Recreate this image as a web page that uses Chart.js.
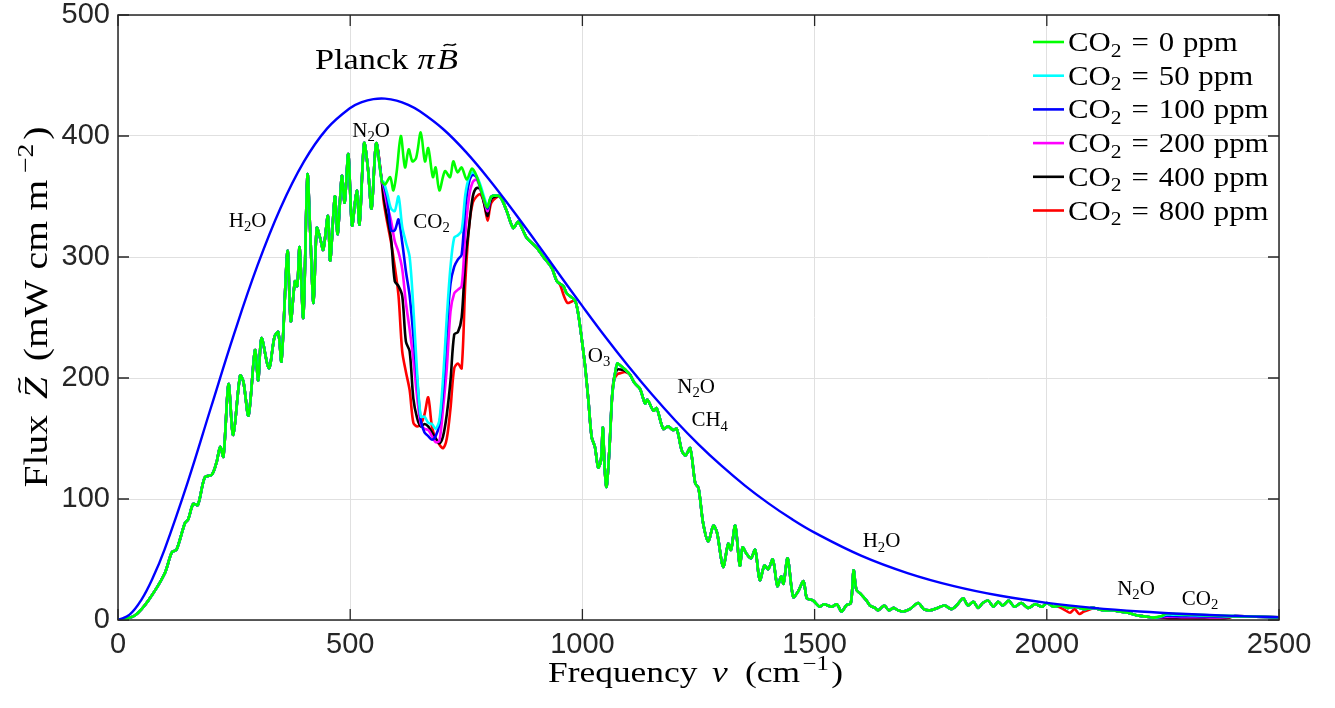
<!DOCTYPE html>
<html>
<head>
<meta charset="utf-8">
<script src="https://cdn.jsdelivr.net/npm/chart.js@4.4.1/dist/chart.umd.min.js"></script>
<style>
  html, body { margin: 0; padding: 0; background: #fff; }
</style>
</head>
<body>
<canvas id="flux-chart" width="1335" height="708"></canvas>
<script>
// Planck curve (blue)
var planckNu = [0, 25, 50, 75, 100, 150, 200, 250, 300, 350, 400, 450, 500, 525, 550, 575, 600, 625, 650, 700, 750, 800, 850, 900, 950, 1000, 1050, 1100, 1150, 1200, 1250, 1300, 1350, 1400, 1450, 1500, 1600, 1700, 1800, 1900, 2000, 2100, 2200, 2300, 2400, 2500];
var planckFlux = [0, 4.4, 16.5, 34.9, 58, 113.8, 175.4, 236.5, 292.6, 340.5, 378.6, 406.1, 423.2, 428.0, 430.5, 430.9, 429.3, 425.7, 420.5, 405.8, 386.5, 363.7, 338.7, 312.5, 285.8, 259.4, 233.7, 209.3, 186.3, 164.9, 145.2, 127.3, 111.1, 96.6, 83.6, 72.2, 53.2, 38.8, 28.0, 20.0, 14.2, 10.0, 7.0, 4.9, 3.4, 2.3];

// CO2 = 0 ppm spectrum (green)
var nu0 = [0, 15, 37, 65, 100, 116, 126, 144, 151, 162, 172, 187, 202, 212, 220, 227, 238, 248, 263, 270,
  281, 295, 302, 309, 325, 337, 345, 352, 365, 372, 381, 386, 391, 399, 408, 414, 421, 428, 435, 442,
  452, 457, 467, 473, 482, 488, 496, 504, 514, 520, 530, 538, 546, 556, 568, 575, 586, 593, 600, 609,
  618, 626, 634, 642, 652, 661, 668, 678, 684, 692, 704, 715, 722, 731, 740, 751, 762, 772, 787, 795,
  804, 822, 837, 851, 862, 880, 901, 916, 934, 945, 959, 966, 984, 991, 999, 1006, 1013, 1020, 1027, 1034,
  1040, 1044, 1048, 1052, 1058, 1064, 1070, 1075, 1080, 1092, 1102, 1112, 1124, 1135, 1140, 1153, 1160, 1174, 1185, 1195,
  1203, 1214, 1222, 1232, 1243, 1250, 1260, 1271, 1282, 1290, 1303, 1314, 1320, 1329, 1339, 1345, 1353, 1363, 1372, 1382,
  1392, 1400, 1410, 1420, 1428, 1433, 1442, 1454, 1465, 1476, 1483, 1490, 1497, 1511, 1520, 1537, 1548, 1558, 1568, 1578,
  1584, 1590, 1598, 1612, 1619, 1630, 1637, 1650, 1660, 1670, 1680, 1691, 1705, 1723, 1735, 1749, 1765, 1780, 1795, 1808,
  1820, 1830, 1842, 1852, 1862, 1874, 1885, 1895, 1905, 1918, 1930, 1945, 1960, 1975, 1990, 2000, 2015, 2030, 2045, 2060,
  2080, 2100, 2122, 2140, 2158, 2175, 2193, 2210, 2229, 2245, 2258, 2280, 2320, 2360, 2400, 2450, 2500];
var flux0 = [0, 1, 4, 16, 38, 56, 58, 80, 83, 96, 95, 118, 120, 130, 143, 135, 195, 153, 202, 197,
  169, 223, 198, 233, 208, 234, 238, 214, 305, 247, 280, 276, 308, 250, 368, 320, 262, 324, 316, 306,
  334, 297, 350, 319, 367, 345, 385, 326, 355, 327, 394, 374, 340, 394, 363, 360, 366, 355, 370, 400,
  374, 389, 379, 382, 403, 379, 390, 366, 374, 355, 371, 366, 379, 370, 374, 364, 373, 367, 349, 341,
  350, 350, 338, 324, 329, 316, 308, 300, 291, 280, 276, 270, 264, 253, 231, 209, 181, 151, 143, 126,
  132, 159, 125, 110, 140, 185, 203, 212, 211, 207, 203, 196, 191, 179, 182, 173, 175, 158, 160, 157,
  158, 140, 136, 142, 113, 109, 80, 65, 78, 72, 44, 63, 58, 78, 45, 60, 55, 51, 58, 33,
  45, 42, 50, 28, 36, 30, 51, 19, 24, 32, 18, 17, 16, 11, 13, 11, 13, 7, 12, 14,
  41, 25, 22, 16, 12, 10, 8, 12, 8, 10, 8, 7, 9, 14, 9, 8, 10, 12, 9, 13,
  18, 12, 15, 10, 14, 16, 11, 15, 12, 16, 11, 14, 10, 13, 11, 14, 11, 12, 10, 11,
  9, 10, 8, 8, 7, 6, 4, 3, 2, 3, 5.3, 5.0, 4.3, 3.7, 3.2, 2.7, 2.2];

// 667 cm-1 CO2 band, one row per concentration
var bandNu = [572, 580, 588, 596, 604, 612, 620, 628, 636, 644, 652, 660, 668, 676, 684, 692, 700, 708, 716, 724, 732, 740, 748, 756, 764, 772, 780, 788, 796, 804];
var band50 = [362, 352, 340, 338, 350, 325, 312, 300, 258, 205, 168, 168, 163, 162, 158, 165, 200, 250, 292, 316, 318, 322, 352, 366, 370, 367, 360, 350, 342, 350];
var band100 = [360, 348, 322, 322, 331, 312, 288, 268, 235, 200, 165, 155, 152, 149, 152, 162, 190, 240, 278, 292, 298, 302, 342, 362, 368, 366, 358, 348, 340, 350];
var band200 = [358, 342, 330, 313, 304, 290, 262, 240, 215, 185, 162, 158, 157, 152, 147, 148, 175, 208, 255, 270, 273, 276, 320, 350, 362, 364, 357, 347, 338, 350];
var band400 = [350, 332, 315, 280, 276, 268, 230, 222, 183, 167, 160, 162, 160, 155, 150, 146, 152, 170, 198, 236, 238, 250, 298, 325, 350, 357, 356, 345, 334, 348];
var band800 = [346, 328, 312, 292, 268, 222, 205, 190, 163, 160, 162, 170, 184, 160, 150, 145, 142, 150, 175, 208, 212, 208, 280, 325, 345, 350, 352, 345, 330, 345];

// 2350 cm-1 CO2 band
var wingNu = [2245, 2258, 2270, 2290, 2310, 2330, 2350, 2370, 2385, 2395, 2405];
var wing50 = [2.8, 4.5, 4.4, 4.2, 4.0, 3.8, 3.6, 3.4, 3.2, 3.2, 3.2];
var wing100 = [2.6, 3.5, 3.3, 3.2, 3.1, 3.0, 2.9, 2.8, 2.8, 3.0, 3.2];
var wing200 = [2.4, 2.6, 2.5, 2.4, 2.3, 2.3, 2.2, 2.2, 2.3, 2.8, 3.2];
var wing400 = [2.2, 1.8, 1.7, 1.6, 1.6, 1.5, 1.5, 1.5, 1.7, 2.5, 3.2];
var wing800 = [2.0, 1.3, 1.1, 1.0, 1.0, 1.0, 1.0, 1.0, 1.2, 2.2, 3.2];

// small weak-band dips
var midNu = [945, 952, 960, 968, 976, 984];
var mid800 = [280, 277, 268, 262, 263, 264];
var o3Nu = [1068, 1075, 1082, 1092];
var o3At400 = [200, 207, 207, 206];
var o3At800 = [198, 203, 204, 205];
var farNu = [2025, 2040, 2050, 2060, 2070, 2080, 2095];
var far800 = [11, 8, 6, 9, 5, 7, 9];

var ppmLevels = [0, 50, 100, 200, 400, 800];
var lineColors = ['#00ff00', '#00ffff', '#0000ff', '#ff00ff', '#000000', '#ff0000'];
var xTicks = [0, 500, 1000, 1500, 2000, 2500];
var yTicks = [0, 100, 200, 300, 400, 500];

function toPoints(xs, ys) {
    return xs.map(function (x, i) { return { x: x, y: ys[i] }; });
}

// copy the green spectrum and swap in the ranges where a series differs
function withPatches(base, patches) {
    var pts = base.slice();
    patches.forEach(function (p) {
        var lo = p[0][0], hi = p[0][p[0].length - 1];
        pts = pts.filter(function (q) { return q.x < lo || q.x > hi; }).concat(toPoints(p[0], p[1]));
    });
    return pts.sort(function (a, b) { return a.x - b.x; });
}

var greenPts = toPoints(nu0, flux0);
var seriesData = [
    greenPts,
    withPatches(greenPts, [[bandNu, band50], [wingNu, wing50]]),
    withPatches(greenPts, [[bandNu, band100], [wingNu, wing100]]),
    withPatches(greenPts, [[bandNu, band200], [wingNu, wing200]]),
    withPatches(greenPts, [[bandNu, band400], [o3Nu, o3At400], [wingNu, wing400]]),
    withPatches(greenPts, [[bandNu, band800], [midNu, mid800], [o3Nu, o3At800], [farNu, far800], [wingNu, wing800]])
];

var datasets = ppmLevels.map(function (level, i) {
    return {
        label: 'CO\u2082 = ' + level + ' ppm',
        data: seriesData[i],
        borderColor: lineColors[i],
        borderWidth: 2.6,
        tension: 0.3,
        order: i
    };
});
datasets.push({
    label: 'Planck',
    data: toPoints(planckNu, planckFlux),
    borderColor: '#0000ff',
    borderWidth: 2.4,
    tension: 0.4,
    order: -1
});

var serif = '"Liberation Serif", "Times New Roman", serif';

// text with sub/superscripts, italics and tildes
function drawRich(ctx, parts, x, y, o) {
    var size = o.size;
    function font(p) {
        var s = (p.sub || p.sup) ? size * 0.7 : size;
        return (p.it ? 'italic ' : '') + s.toFixed(1) + 'px ' + serif;
    }
    var w = 0;
    parts.forEach(function (p) {
        ctx.font = font(p);
        p.w = ctx.measureText(p.t).width;
        w += p.w + (p.gap || 0);
    });
    var sx = o.fit ? o.fit / w : (o.sx || 1);
    ctx.save();
    ctx.translate(x, y);
    if (o.rotate) ctx.rotate(o.rotate);
    ctx.scale(sx, o.sy || 1);
    ctx.fillStyle = '#000';
    ctx.strokeStyle = '#000';
    ctx.textAlign = 'left';
    ctx.textBaseline = 'alphabetic';
    var cx = o.align === 'left' ? 0 : -w / 2;
    parts.forEach(function (p) {
        ctx.font = font(p);
        var dy = p.sub ? size * 0.2 : (p.sup ? -size * 0.42 : 0);
        ctx.fillText(p.t, cx, dy);
        if (p.tilde) {
            var tw = size * 0.36, a = size * 0.035;
            var tx = cx + p.w * 0.5 + size * 0.07, ty = -size * 0.82;
            ctx.lineWidth = size * 0.05;
            ctx.beginPath();
            ctx.moveTo(tx - tw / 2, ty + a);
            ctx.bezierCurveTo(tx - tw / 6, ty - 3 * a, tx + tw / 6, ty + 3 * a, tx + tw / 2, ty - a);
            ctx.stroke();
        }
        cx += p.w + (p.gap || 0);
    });
    ctx.restore();
}

function chemParts(name) {
    var parts = [];
    name.replace(/(\d+)|(\D+)/g, function (m, d, s) { parts.push(d ? { t: d, sub: true } : { t: s }); });
    return parts;
}

// gas labels, anchored in data units (centre, baseline)
var gasNotes = [
    { name: 'H2O', nu: 279, flux: 325 },
    { name: 'N2O', nu: 545, flux: 399 },
    { name: 'CO2', nu: 675, flux: 324 },
    { name: 'O3', nu: 1036, flux: 213 },
    { name: 'N2O', nu: 1245, flux: 188 },
    { name: 'CH4', nu: 1274, flux: 160 },
    { name: 'H2O', nu: 1644, flux: 60 },
    { name: 'N2O', nu: 2192, flux: 20.6 },
    { name: 'CO2', nu: 2330, flux: 12.4 }
];

var axesDecor = {
    id: 'axesDecor',
    beforeDatasetsDraw: function (chart) {
        var ctx = chart.ctx, a = chart.chartArea, xs = chart.scales.x, ys = chart.scales.y;
        ctx.save();
        ctx.strokeStyle = '#262626';
        ctx.lineWidth = 1.3;
        ctx.beginPath();
        xTicks.forEach(function (v) {
            var px = xs.getPixelForValue(v);
            ctx.moveTo(px, a.bottom); ctx.lineTo(px, a.bottom - 11);
            ctx.moveTo(px, a.top); ctx.lineTo(px, a.top + 11);
        });
        yTicks.forEach(function (v) {
            var py = ys.getPixelForValue(v);
            ctx.moveTo(a.left, py); ctx.lineTo(a.left + 11, py);
            ctx.moveTo(a.right, py); ctx.lineTo(a.right - 11, py);
        });
        ctx.stroke();
        ctx.restore();
    },
    afterDatasetsDraw: function (chart) {
        var ctx = chart.ctx, a = chart.chartArea, xs = chart.scales.x, ys = chart.scales.y;
        ctx.save();
        ctx.strokeStyle = '#262626';
        ctx.lineWidth = 1.5;
        ctx.strokeRect(a.left, a.top, a.right - a.left, a.bottom - a.top);

        // legend
        var lx = a.right - 246, ly = a.top + 27, rowH = 33.7;
        ppmLevels.forEach(function (level, i) {
            var y = ly + i * rowH;
            ctx.strokeStyle = lineColors[i];
            ctx.lineWidth = 2.6;
            ctx.beginPath();
            ctx.moveTo(lx, y);
            ctx.lineTo(lx + 31, y);
            ctx.stroke();
            drawRich(ctx, [{ t: 'CO' }, { t: '2', sub: true, gap: 9 }, { t: '=', gap: 9 }, { t: String(level), gap: 8 }, { t: 'ppm' }],
                lx + 35, y + 9, { size: 28, sx: 1.1, align: 'left' });
        });

        // gas labels
        gasNotes.forEach(function (g) {
            drawRich(ctx, chemParts(g.name), xs.getPixelForValue(g.nu), ys.getPixelForValue(g.flux), { size: 21 });
        });
        drawRich(ctx, [{ t: 'Planck', gap: 8 }, { t: '\u03c0', it: true, gap: 2 }, { t: 'B', it: true, tilde: true }],
            xs.getPixelForValue(578), ys.getPixelForValue(455), { size: 30, fit: 143 });

        // axis titles
        drawRich(ctx, [{ t: 'Frequency', gap: 12 }, { t: '\u03bd', it: true, gap: 14 }, { t: '(cm', gap: 2 }, { t: '\u22121', sup: true, gap: 2 }, { t: ')' }],
            (a.left + a.right) / 2 - 3, 682, { size: 29, fit: 295 });
        drawRich(ctx, [{ t: 'Flux', gap: 12 }, { t: 'Z', it: true, tilde: true, gap: 12 }, { t: '(mW', gap: 8 }, { t: 'cm', gap: 8 }, { t: 'm', gap: 5 }, { t: '\u22122', sup: true, gap: 3 }, { t: ')' }],
            47, 307, { size: 30, fit: 361, sy: 1.12, rotate: -Math.PI / 2 });
        ctx.restore();
    }
};

var tickFont = { family: '"Liberation Sans", Arial, sans-serif', size: 29, lineHeight: 1 };

new Chart(document.getElementById('flux-chart').getContext('2d'), {
    type: 'line',
    data: { datasets: datasets },
    options: {
        responsive: false,
        animation: false,
        events: [],
        devicePixelRatio: 1,
        layout: { padding: { top: 15, right: 56, left: 0, bottom: 0 } },
        elements: { point: { radius: 0 } },
        plugins: { legend: { display: false }, tooltip: { enabled: false } },
        scales: {
            x: {
                type: 'linear', min: 0, max: 2500,
                afterFit: function (s) { s.height = 88; s.paddingLeft = 0; s.paddingRight = 0; },
                afterBuildTicks: function (s) { s.ticks = xTicks.map(function (v) { return { value: v }; }); },
                grid: { color: '#e0e0e0', drawTicks: false },
                border: { display: false },
                ticks: { padding: 10, color: '#262626', font: tickFont, maxRotation: 0,
                         callback: function (v) { return String(v); } }
            },
            y: {
                type: 'linear', min: 0, max: 500,
                afterFit: function (s) { s.width = 118; s.paddingTop = 0; s.paddingBottom = 0; },
                afterBuildTicks: function (s) { s.ticks = yTicks.map(function (v) { return { value: v }; }); },
                grid: { color: '#e0e0e0', drawTicks: false },
                border: { display: false },
                ticks: { padding: 8, color: '#262626', font: tickFont,
                         callback: function (v) { return String(v); } }
            }
        }
    },
    plugins: [axesDecor]
});
</script>
</body>
</html>
